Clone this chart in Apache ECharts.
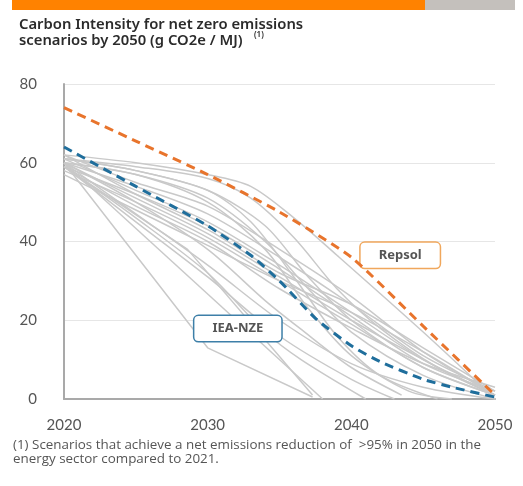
<!DOCTYPE html>
<html>
<head>
<meta charset="utf-8">
<script src="https://cdn.jsdelivr.net/npm/echarts@6/dist/echarts.min.js"></script>
<style>
  html, body { margin: 0; padding: 0; background: #fff; }
  #c-carbon { width: 523px; height: 486px; }
</style>
</head>
<body>
<div id="c-carbon"></div>
<script>
  // 数据
  var xTicks = [2020, 2030, 2040, 2050];
  var yTicks = [0, 20, 40, 60, 80];

  var repsol = [[2020, 74], [2025, 65.5], [2030, 57], [2035, 47.5], [2040, 36], [2045, 18.5], [2050, 1]];
  var ieaNze = [[2020, 64], [2025, 54], [2030, 44], [2033, 36.5], [2035, 30], [2037.5, 20.5], [2040, 13.5],
    [2042, 9.5], [2045, 5], [2047, 3], [2050, 0.5]];

  // scenario lines (grey)
  var g1 = [[2020, 62], [2025, 60], [2030, 57], [2033, 54], [2036, 46], [2039, 36.5], [2045, 17], [2050, 0]];
  var g2 = [[2020, 61], [2025, 59], [2030, 56], [2033, 51], [2036, 41], [2039, 28], [2042, 18], [2046, 8], [2050, 1]];
  var g3 = [[2020, 61], [2025, 58], [2030, 53], [2034, 44], [2037, 31], [2040, 20], [2045, 8], [2050, 1]];
  var g4 = [[2020, 60], [2025, 57], [2030, 51], [2034, 40], [2037, 28], [2040, 17], [2045, 6], [2050, 0]];
  var g5 = [[2020, 62], [2025, 55], [2030, 49], [2035, 38], [2040, 26], [2045, 12], [2050, 1]];
  var g6 = [[2020, 60], [2025, 54], [2030, 47], [2035, 36], [2040, 24], [2045, 11], [2050, 2]];
  var g7 = [[2020, 61], [2025, 53], [2030, 45], [2035, 34], [2040, 22], [2045, 10], [2050, 1]];
  var g8 = [[2020, 59], [2025, 52], [2030, 44], [2035, 33], [2040, 21], [2045, 9], [2050, 2]];
  var g9 = [[2020, 60], [2025, 51], [2030, 42], [2035, 31], [2040, 20], [2045, 10], [2050, 1]];
  var g10 = [[2020, 58], [2025, 50], [2030, 41], [2035, 30], [2040, 19], [2045, 8], [2050, 1]];
  var g11 = [[2020, 62], [2025, 52], [2030, 43], [2035, 32], [2040, 24], [2045, 13], [2050, 2]];
  var g12 = [[2020, 59], [2025, 49], [2030, 40], [2035, 28], [2040, 18], [2045, 9], [2050, 3]];
  var g13 = [[2020, 57], [2025, 48], [2030, 39], [2035, 30], [2040, 22], [2045, 12], [2050, 1]];
  var g14 = [[2020, 60], [2025, 47], [2030, 34], [2035, 20], [2040, 9], [2045, 3], [2050, 0]];
  var g15 = [[2020, 59], [2025, 45], [2030, 31], [2035, 16], [2040, 5], [2043, 0]];
  var t1 = [[2020, 61], [2025, 58], [2030, 53], [2033, 45], [2036, 31], [2039, 16], [2042, 6], [2046, 0]];
  var t2 = [[2020, 60], [2025, 57], [2030, 50], [2034, 38], [2037, 23], [2040, 11], [2044, 2], [2047, 0]];
  var l1 = [[2020, 60], [2025, 50], [2030, 38], [2034, 25], [2036.4, 18], [2040, 8], [2043.5, 1]];
  var l2 = [[2020, 59], [2025, 46], [2030, 32], [2034, 17], [2036.5, 10], [2041, 0]];
  var k1 = [[2020, 60], [2030, 13], [2037.3, 0.5]];
  var k2 = [[2020, 60], [2038, 0]];
  var k3 = [[2020, 59], [2028.6, 38], [2037.3, 1]];

  var smoothGrey = [g1, g2, g3, g4, g5, g6, g7, g8, g9, g10, g11, g12, g13, g14, g15, t1, t2, l1, l2];
  var straightGrey = [k1, k2, k3];

  var GREY = '#c9c9c9';
  var series = [];
  smoothGrey.forEach(function (d) {
    series.push({ type: 'line', data: d, smooth: 0.3, symbol: 'none', silent: true,
      lineStyle: { color: GREY, width: 1.5 } });
  });
  straightGrey.forEach(function (d) {
    series.push({ type: 'line', data: d, smooth: false, symbol: 'none', silent: true,
      lineStyle: { color: GREY, width: 1.5 } });
  });

  function tag(name, coord, color) {
    return {
      symbol: 'rect', symbolSize: 0, coord: coord,
      label: {
        show: true, position: 'inside', formatter: name,
        color: '#555', fontSize: 13, fontWeight: 'bold', fontFamily: 'Noto Sans',
        backgroundColor: '#fff', borderColor: color, borderWidth: 1.5, borderRadius: 4,
        padding: [6, 18, 6, 18]
      }
    };
  }

  series.push({ type: 'line', data: ieaNze, smooth: 0.2, symbol: 'none', z: 5,
    lineStyle: { color: '#1f6e9c', width: 3, type: [9, 6] },
    markPoint: { data: [tag('IEA-NZE', [2032.1, 17.9], '#3d7fa8')] } });
  series.push({ type: 'line', data: repsol, smooth: 0.2, symbol: 'none', z: 6,
    lineStyle: { color: '#e8742c', width: 3, type: [9, 6] },
    markPoint: { data: [tag('Repsol', [2043.4, 36.5], '#f0a75c')] } });

  var chart = echarts.init(document.getElementById('c-carbon'));
  chart.setOption({
    animation: false,
    grid: { left: 64, right: 28, top: 84, bottom: 87 },
    xAxis: {
      type: 'value', min: xTicks[0], max: xTicks[xTicks.length - 1], interval: 10,
      axisLine: { lineStyle: { color: '#a9a9a9', width: 2 } },
      axisTick: { show: false }, splitLine: { show: false },
      axisLabel: { color: '#555', fontSize: 15, fontFamily: 'Lato', margin: 19,
        formatter: function (v) { return String(v); } }
    },
    yAxis: {
      type: 'value', min: yTicks[0], max: yTicks[yTicks.length - 1], interval: 20,
      axisLine: { show: true, lineStyle: { color: '#a9a9a9', width: 2 } },
      axisTick: { show: false },
      splitLine: { lineStyle: { color: '#e6e6e6', width: 1 } },
      axisLabel: { color: '#555', fontSize: 15, fontFamily: 'Lato', margin: 27 }
    },
    graphic: [
      { type: 'rect', left: 12, top: 0, shape: { width: 413, height: 10 }, style: { fill: '#ff8200' } },
      { type: 'rect', left: 425, top: 0, shape: { width: 90, height: 10 }, style: { fill: '#c4c0bc' } },
      { type: 'text', left: 19, top: 17, style: { text: 'Carbon Intensity for net zero emissions',
        fill: '#2b2b2b', font: '600 14.8px "Noto Sans"' } },
      { type: 'text', left: 19, top: 33, style: { text: 'scenarios by 2050 (g CO2e / MJ)',
        fill: '#2b2b2b', font: '600 14.8px "Noto Sans"' } },
      { type: 'text', left: 254, top: 31, style: { text: '(1)', fill: '#2b2b2b', font: '600 8px "Noto Sans"' } },
      { type: 'text', left: 13, top: 438, style: {
        text: '(1) Scenarios that achieve a net emissions reduction of  >95% in 2050 in the\nenergy sector compared to 2021.',
        fill: '#555', font: '13.4px "Open Sans"', lineHeight: 14 } }
    ],
    series: series
  });
</script>
</body>
</html>
